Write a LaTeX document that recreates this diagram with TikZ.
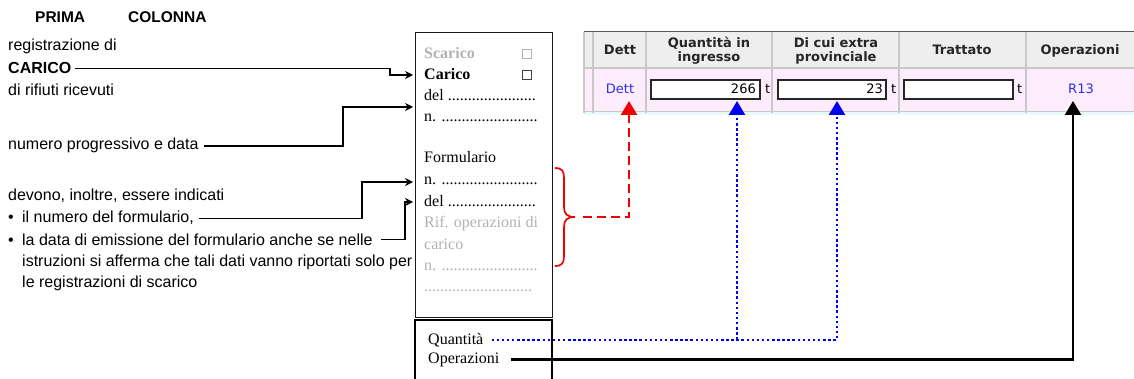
\documentclass[tikz,border=0pt]{standalone}
\usepackage{fontspec}
\setmainfont{Liberation Serif}
\newfontfamily\arialf{Liberation Sans}
\newfontfamily\verdf{DejaVu Sans}
\usetikzlibrary{arrows.meta}
\definecolor{lgray}{RGB}{178,178,178}
\definecolor{redc}{RGB}{240,0,0}
\definecolor{bluec}{RGB}{0,0,240}
\definecolor{linkc}{RGB}{45,45,240}
\definecolor{hdrbg}{RGB}{238,238,238}
\definecolor{rowbg}{RGB}{252,236,252}
\definecolor{gridc}{RGB}{200,200,200}
\definecolor{cyanl}{RGB}{232,250,250}
\begin{document}
\begin{tikzpicture}[x=1pt,y=-1pt,
  lbl/.style={anchor=base west,inner sep=0pt,font=\arialf\fontsize{16}{19}\selectfont},
  hdr/.style={anchor=base west,inner sep=0pt,font=\arialf\bfseries\fontsize{15.5}{18}\selectfont},
  frm/.style={anchor=base west,inner sep=0pt,font=\fontsize{16}{19}\selectfont},
  frmg/.style={frm,text=lgray},
  th/.style={anchor=base,inner sep=0pt,font=\verdf\bfseries\fontsize{13}{15}\selectfont,text=black!85},
  td/.style={anchor=base,inner sep=0pt,font=\verdf\fontsize{13}{15}\selectfont},
  inp/.style={draw=black!85,fill=white,line width=1.3pt,inner sep=0pt,minimum height=19pt},
  conn/.style={draw=black,line width=1.3pt,-{Stealth[length=8pt,width=8pt]}},
  bigtip/.style={-{Triangle[length=14pt,width=16pt]}},
  reddash/.style={draw=redc,line width=2.2pt,dash pattern=on 9pt off 5pt,bigtip},
  bluedot/.style={draw=bluec,line width=2.4pt,dash pattern=on 2.5pt off 2.6pt,bigtip},
  blackc/.style={draw=black,line width=2.2pt,bigtip}
]
\useasboundingbox (0,0) rectangle (1134,379);
\fill[white] (0,0) rectangle (1134,379);

% ---------- table (screenshot) ----------
\fill[hdrbg] (584,32) rectangle (1134,68);
\fill[rowbg] (584,68) rectangle (1134,111);
\fill[cyanl] (584,111) rectangle (1134,115);
\draw[gridc,line width=1.1pt] (584,68) -- (1134,68);
\draw[gridc,line width=1.1pt] (584,111.5) -- (1134,111.5);
\foreach \xx in {584,593,646,772,899,1026}{\draw[gridc,line width=1.1pt] (\xx,32) -- (\xx,113);}
\draw[black!65,line width=1.6pt] (584,31.5) -- (1134,31.5);

\node[th] (hDett) at (620,55) {Dett};
\node[th] (hQ1) at (709,48) {Quantità in};
\node[th] (hQ2) at (709,62) {ingresso};
\node[th] (hE1) at (836,48) {Di cui extra};
\node[th] (hE2) at (836,62) {provinciale};
\node[th] (hTr) at (962,55) {Trattato};
\node[th] (hOp) at (1080,55) {Operazioni};

\node[td,text=linkc] (dDett) at (620,94) {Dett};
\node[inp,minimum width=109pt] (in1) at (705.5,89.5) {};
\node[td,anchor=base east] (v1) at (756,94) {266};
\node[td,anchor=base west] (t1) at (765,94) {t};
\node[inp,minimum width=108pt] (in2) at (832,89.5) {};
\node[td,anchor=base east] (v2) at (883,94) {23};
\node[td,anchor=base west] (t2) at (891,94) {t};
\node[inp,minimum width=109pt] (in3) at (958.5,89.5) {};
\node[td,anchor=base west] (t3) at (1017,94) {t};
\node[td,text=linkc] (dR13) at (1081,94) {R13};

% ---------- form ----------
\draw[black!90,line width=0.9pt] (415,32) rectangle (552,317.5);
\draw[black,line width=1.6pt] (415,379.5) -- (415,320) -- (552,320) -- (552,379.5);

\node[frmg,font=\bfseries\fontsize{16}{19}\selectfont] (fScarico) at (424,59) {Scarico};
\draw[lgray,line width=0.8pt] (522,49) rectangle (531,58);
\node[frm,font=\bfseries\fontsize{16}{19}\selectfont] (fCarico) at (424,80) {Carico};
\draw[black!75,line width=0.8pt] (522,70) rectangle (531,79);
\node[frm] (fDel) at (424,101) {del ......................};
\node[frm] (fN) at (424,122) {n. ........................};
\node[frm] (fForm) at (424,163) {Formulario};
\node[frm] (fFn) at (424,185) {n. ........................};
\node[frm] (fFd) at (424,207) {del ......................};
\node[frmg] (fRif) at (424,228) {Rif. operazioni di};
\node[frmg] (fCar2) at (424,249) {carico};
\node[frmg] (fN2) at (424,270) {n. ........................};
\node[frmg] (fDots) at (424,291) {...........................};
\node[frm] (quant) at (428,344) {Quantità};
\node[frm] (oper) at (428,363) {Operazioni};

% ---------- left labels ----------
\node[hdr] (prima) at (35,23) {PRIMA};
\node[hdr] (colonna) at (128,23) {COLONNA};
\node[lbl] (reg) at (8,51) {registrazione di};
\node[lbl,font=\arialf\bfseries\fontsize{16}{19}\selectfont] (lCarico) at (8,74) {CARICO};
\node[lbl] (rifiuti) at (8,96) {di rifiuti ricevuti};
\node[lbl] (numero) at (8,150) {numero progressivo e data};
\node[lbl] (devono) at (8,201) {devono, inoltre, essere indicati};
\node[lbl] (numform) at (8,223) {\makebox[14pt][l]{•}il numero del formulario,};
\node[lbl] (dataem) at (8,245) {\makebox[14pt][l]{•}la data di emissione del formulario anche se nelle};
\node[lbl] (istr) at (22,266) {istruzioni si afferma che tali dati vanno riportati solo per};
\node[lbl] (lereg) at (22,287) {le registrazioni di scarico};

% ---------- connector coordinates ----------
\coordinate (b1) at (390,0);
\coordinate (b2) at (343,0);
\coordinate (b3) at (362,0);
\coordinate (b4) at (405,0);
\coordinate (tCar) at (413,75);
\coordinate (tDel) at (413,107);
\coordinate (tFn) at (413,182);
\coordinate (tFd) at (413,202);
\coordinate (brace) at (575,217);
\coordinate (tDett) at (629,101);
\coordinate (tQi) at (737,101);
\coordinate (tEx) at (837,101);
\coordinate (tR13) at (1073,101);

% ---------- left connectors ----------
\draw[conn] ([xshift=3pt]lCarico.east) -- (lCarico.east -| b1) |- (tCar);
\draw[conn] ([xshift=5pt]numero.east) -- (numero.east -| b2) |- (tDel);
\draw[conn] ([xshift=5pt]numform.east) -- (numform.east -| b3) |- (tFn);
\draw[conn] ([xshift=8pt]dataem.east) -- (dataem.east -| b4) |- (tFd);

% ---------- red brace ----------
\draw[redc,line width=1.7pt] (555,168) .. controls (562,168) and (564,171) .. (564,178) -- (564,207)
  .. controls (564,214) and (567,217) .. (575,217)
  .. controls (567,217) and (564,220) .. (564,227) -- (564,256)
  .. controls (564,263) and (562,266) .. (555,266);
\draw[reddash] ([xshift=8pt]brace) -| (tDett);

% ---------- blue dotted ----------
\draw[bluedot] ([xshift=8pt]quant.east) -- (quant.east -| tEx) -- (tEx);
\draw[bluedot] (quant.east -| tQi) -- (tQi);

% ---------- black ----------
\draw[blackc] ([xshift=12pt]oper.east) -| (tR13);
\end{tikzpicture}
\end{document}
